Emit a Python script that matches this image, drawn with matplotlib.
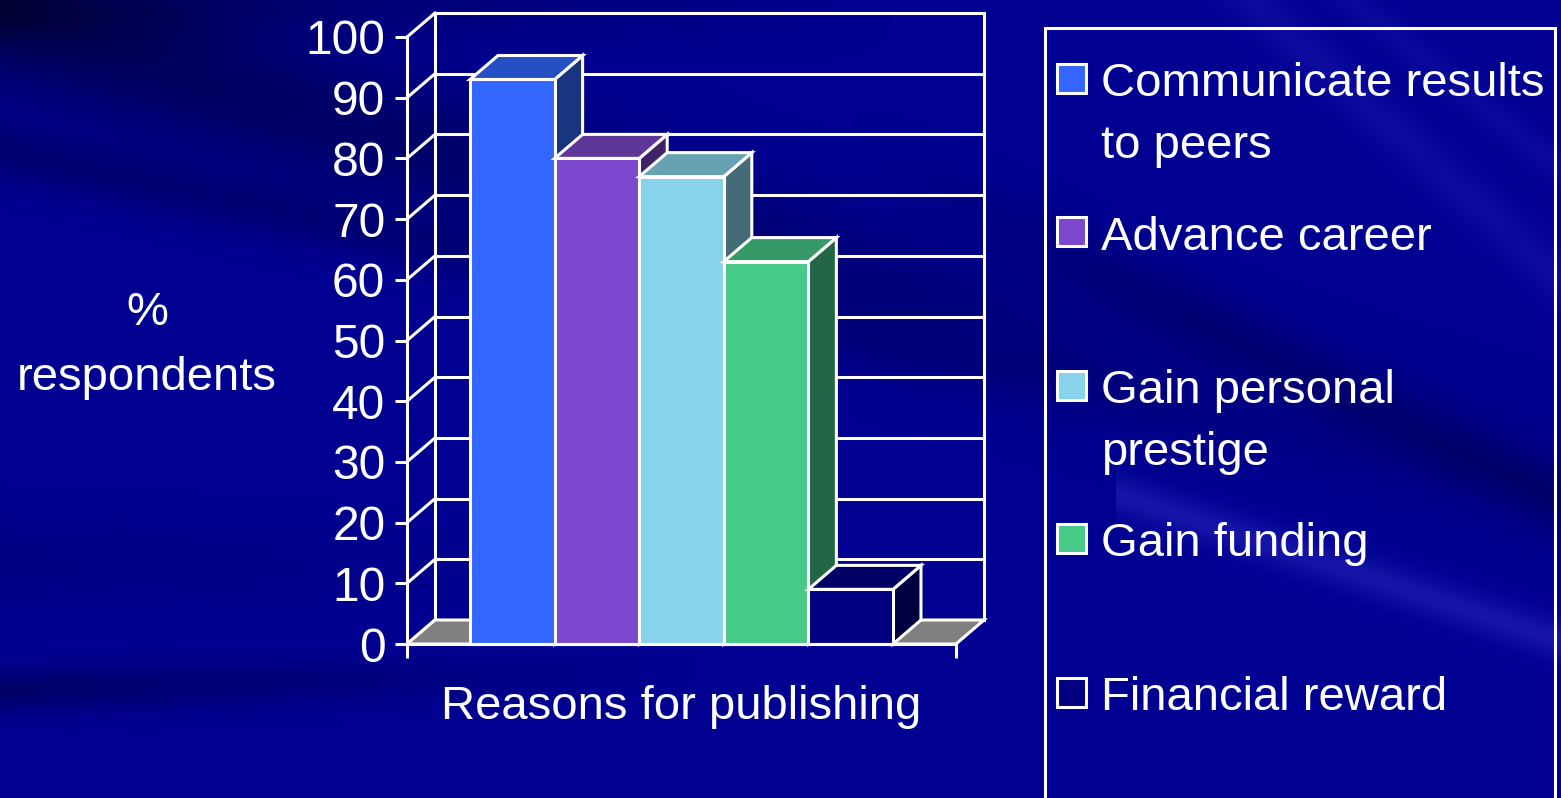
import numpy as np
import matplotlib
matplotlib.use("Agg")
import matplotlib.pyplot as plt
from matplotlib.patches import Polygon, Rectangle

# survey data
categories = ["Communicate results\nto peers", "Advance career",
              "Gain personal\nprestige", "Gain funding", "Financial reward"]
values = [93, 80, 77, 63, 9]
y_ticks = list(range(0, 101, 10))

front_colors = ["#3366FF", "#7B47CC", "#87D3EB", "#47C987", "#000080"]
top_colors = ["#2450C4", "#5E3799", "#66A2B2", "#369A68", "#000066"]
side_colors = ["#1A357F", "#3E2466", "#456B77", "#236645", "#000040"]
floor_color = "#808080"

W, H = 1561, 798
FS = 34
LW = 2.2
plt.rcParams['font.family'] = ['Liberation Sans', 'DejaVu Sans']


def fx(px):
    return px / W


def fy(py):
    return 1 - py / H


def band(yy, xx, y0, slope, half):
    return np.exp(-((yy - y0 - slope * xx) / half) ** 2)


fig = plt.figure(figsize=(W / 100, H / 100), dpi=100)

# slide background: navy with soft diagonal streaks
bg = fig.add_axes([0, 0, 1, 1])
bg.axis('off')
yy, xx = np.mgrid[0:H, 0:W].astype(float)
fade = np.clip(1 - xx / 1500, 0.15, 1)
dark = np.zeros((H, W))
dark += 0.38 * band(yy, xx, 20, 0.30, 70) * fade
dark += 0.22 * band(yy, xx, 150, 0.22, 28) * fade
dark += 0.30 * np.exp(-(yy / 40) ** 2) * np.clip(1 - xx / 900, 0, 1)
dark += 0.18 * band(yy, xx, -280, 0.50, 35) * np.clip((xx - 850) / 350, 0, 1)
dark += 0.28 * band(yy, xx, 690, -0.03, 22) * np.clip(1 - xx / 700, 0, 1)
dark += 0.10 * band(yy, xx, 560, 0.02, 40) * np.clip(1 - xx / 600, 0, 1)
light = 0.09 * band(yy, xx - 1120, 495, 0.33, 20) * (xx > 1115)
light += 0.05 * band(yy, xx - 1250, 0, 0.9, 30)
light += 0.04 * band(yy, xx - 1350, 0, 0.8, 20)
img = np.zeros((H, W, 3))
img[..., 0] = light * 0.9
img[..., 1] = light * 0.9
img[..., 2] = np.clip(0.57 * (1 - dark) + light, 0, 1)
bg.imshow(img, extent=[0, W, H, 0], aspect='auto', zorder=0)
bg.set_xlim(0, W)
bg.set_ylim(H, 0)

# chart area (front plane)
ax_l, ax_r, ax_t, ax_b = 407, 956, 37, 644
ax = fig.add_axes([fx(ax_l), fy(ax_b), fx(ax_r - ax_l), (ax_b - ax_t) / H])
ax.patch.set_alpha(0)
gap = 0.745
xmin, xmax = -0.5 - gap, len(values) - 0.5 + gap
ax.set_xlim(xmin, xmax)
ax.set_ylim(0, 100)

# depth of the 3-D effect, in data units
depth_x_px, depth_y_px = 28, 24
dx = depth_x_px * (xmax - xmin) / (ax_r - ax_l)
dy = depth_y_px * 100 / (ax_b - ax_t)

line_kw = dict(color='white', lw=LW, clip_on=False, solid_capstyle='projecting')

# back wall gridlines and side wall
for v in y_ticks:
    ax.plot([xmin + dx, xmax + dx], [v + dy, v + dy], zorder=1, **line_kw)
    ax.plot([xmin, xmin + dx], [v, v + dy], zorder=1, **line_kw)
ax.plot([xmin + dx] * 2, [dy, 100 + dy], zorder=1, **line_kw)
ax.plot([xmax + dx] * 2, [dy, 100 + dy], zorder=1, **line_kw)

# floor
ax.add_patch(Polygon([(xmin, 0), (xmax, 0), (xmax + dx, dy), (xmin + dx, dy)],
                     closed=True, fc=floor_color, ec='white', lw=LW,
                     joinstyle='miter', clip_on=False, zorder=2))

# bars, left to right so each one covers the side of the previous
for i, v in enumerate(values):
    x0, x1 = i - 0.5, i + 0.5
    z = 3 + i
    poly_kw = dict(closed=True, ec='white', lw=LW, joinstyle='miter',
                   clip_on=False, zorder=z)
    ax.add_patch(Polygon([(x1, 0), (x1 + dx, dy), (x1 + dx, v + dy), (x1, v)],
                         fc=side_colors[i], **poly_kw))
    ax.add_patch(Polygon([(x0, v), (x1, v), (x1 + dx, v + dy), (x0 + dx, v + dy)],
                         fc=top_colors[i], **poly_kw))
    ax.add_patch(Rectangle((x0, 0), 1, v, fc=front_colors[i], ec='white',
                           lw=LW, joinstyle='miter', clip_on=False, zorder=z))

# front axes
for side in ['top', 'right']:
    ax.spines[side].set_visible(False)
for side in ['left', 'bottom']:
    ax.spines[side].set_color('white')
    ax.spines[side].set_linewidth(LW)
    ax.spines[side].set_zorder(20)
ax.set_yticks(y_ticks)
ax.set_yticklabels([str(t) for t in y_ticks])
ax.set_xticks([xmin, xmax])
ax.set_xticklabels(['', ''])
ax.tick_params(axis='y', direction='out', length=8.6, width=LW, colors='white',
               labelsize=FS + 0.5, pad=7)
ax.tick_params(axis='x', direction='out', length=10, width=LW, colors='white')

fig.text(fx((ax_l + ax_r) / 2), fy(719), "Reasons for publishing", color='white',
         fontsize=FS, ha='center', va='baseline')

# y-axis title
for k, line in enumerate(["%", "respondents"]):
    fig.text(fx(147), fy(325 + 65 * k), line, color='white', fontsize=FS,
             ha='center', va='baseline')

# legend box, open at the bottom edge
fig.patches.append(Rectangle((fx(1045), fy(H + 10)), fx(1555 - 1045), (H + 10 - 28) / H,
                             transform=fig.transFigure, fc='none', ec='white',
                             lw=LW, zorder=5))
leg_top, leg_step, line_step = 78, 153.5, 62
for i, label in enumerate(categories):
    cy = leg_top + leg_step * i
    fig.patches.append(Rectangle((fx(1057), fy(cy + 14.5)), fx(29), 29 / H,
                                 transform=fig.transFigure, fc=front_colors[i],
                                 ec='white', lw=LW, zorder=6))
    for k, line in enumerate(label.split("\n")):
        fig.text(fx(1101), fy(cy + 18 + line_step * k), line, color='white',
                 fontsize=FS, ha='left', va='baseline', zorder=6)

fig.savefig("out.png", dpi=100)
